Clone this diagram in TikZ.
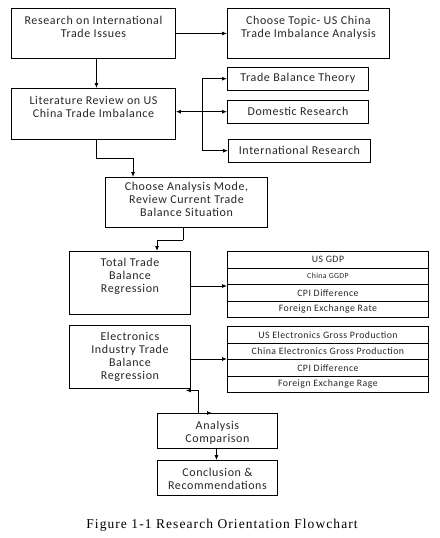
\documentclass[tikz,border=0pt]{standalone}
\usepackage{fontspec}
\setmainfont{Liberation Serif}
\newfontfamily\calf[LetterSpace=5]{Carlito}
\newfontfamily\capf[LetterSpace=8]{Liberation Serif}
\usetikzlibrary{arrows.meta,calc}
\newcommand{\tb}[4]{\parbox[c][#2][t]{#1}{\centering\rule{0pt}{#3}#4}}
\begin{document}
\begin{tikzpicture}[x=1pt,y=-1pt,
  box/.style={draw, line width=0.9pt, inner sep=0pt, anchor=north west},
  main/.style={font=\calf\fontsize{12}{13}\selectfont, text=black!85},
  small/.style={font=\calf\fontsize{9.8}{11}\selectfont, text=black!85},
  tiny/.style={font=\calf\fontsize{7.8}{9}\selectfont, text=black!85},
  row/.style={box, small, minimum width=201pt, minimum height=16.5pt},
  sbox/.style={box, main, minimum width=141pt, minimum height=22.5pt},
  arr/.style={-{Latex[length=5pt,width=4pt]}, line width=0.8pt},
  darr/.style={{Latex[length=5pt,width=4pt]}-{Latex[length=5pt,width=4pt]}, line width=0.8pt},
  plain/.style={line width=0.8pt}]
\useasboundingbox (0,0) rectangle (439,538);

\node[box,main] (b1) at (11,8) {\tb{164pt}{50pt}{16pt}{Research on International\\Trade Issues}};
\node[box,main] (b2) at (227,8) {\tb{162pt}{50pt}{16pt}{Choose Topic- US China\\Trade Imbalance Analysis}};
\node[box,main] (b3) at (11,88) {\tb{164pt}{51pt}{16pt}{Literature Review on US\\China Trade Imbalance}};
\node[sbox] (t1) at (227,67) {Trade Balance Theory};
\node[sbox] (t2) at (227,100) {Domestic Research};
\node[sbox, minimum width=142pt] (t3) at (228,139) {International Research};
\node[box,main] (b4) at (105,177) {\tb{162pt}{50pt}{13pt}{Choose Analysis Mode,\\Review Current Trade\\Balance Situation}};
\node[box,main] (b5) at (69,251) {\tb{121pt}{63pt}{15pt}{Total Trade\\Balance\\Regression}};
\node[row] (r11) at (227,251) {US GDP};
\node[row, tiny] (r12) at (227,267.5) {China GGDP};
\node[row] (r13) at (227,284) {CPI Difference};
\node[row] (r14) at (227,300.5) {Foreign Exchange Rate};
\node[box,main] (b6) at (69,325) {\tb{121pt}{63pt}{15pt}{Electronics\\Industry Trade\\Balance\\Regression}};
\node[row] (r21) at (227,326) {US Electronics Gross Production};
\node[row] (r22) at (227,342.5) {China Electronics Gross Production};
\node[row] (r23) at (227,359) {CPI Difference};
\node[row] (r24) at (227,375.5) {Foreign Exchange Rage};
\node[box,main] (b7) at (157,413) {\tb{120pt}{35pt}{16pt}{Analysis\\Comparison}};
\node[box,main] (b8) at (157,460) {\tb{120pt}{35pt}{16pt}{Conclusion \&\\Recommendations}};
\node[font=\capf\fontsize{13.5}{16}\selectfont] (cap) at (222,525) {Figure 1-1 Research Orientation Flowchart};

\draw[arr] (b1.east) -- (b2.west);
\draw[arr] ($(b1.south)+(3,0)$) -- ($(b3.north)+(3,0)$);
\draw[darr] (b3.east |- t2.west) -- (t2.west);
\coordinate (jx) at (202,0);
\draw[plain] (jx |- t1.west) -- (jx |- t3.west);
\draw[arr] (jx |- t1.west) -- (t1.west);
\draw[arr] (jx |- t3.west) -- (t3.west);
\draw[arr] ($(b3.south)+(3,0)$) -- ++(0,18) -| ($(b4.north west)+(28,0)$);
\coordinate (k4) at ($(b4.south)+(-3,12)$);
\draw[line width=1.8pt] ($(b4.south)+(-3,0)$) -- (k4);
\draw[arr] (k4) -| ($(b5.north west)+(88,0)$);
\coordinate (a5) at ($(r13.north west)+(0,2)$);
\draw[arr] (b5.east |- a5) -- (a5);
\coordinate (a6) at (r23.north west);
\draw[arr] (b6.east |- a6) -- (a6);
\draw[darr] ($(b6.south east)+(-5,1.5)$) -| ($(b7.north west)+(41,0)$) -- ($(b7.north west)+(55,0)$);
\draw[arr] ($(b7.south)+(-1,0)$) -- ($(b8.north)+(-1,0)$);
\end{tikzpicture}
\end{document}
